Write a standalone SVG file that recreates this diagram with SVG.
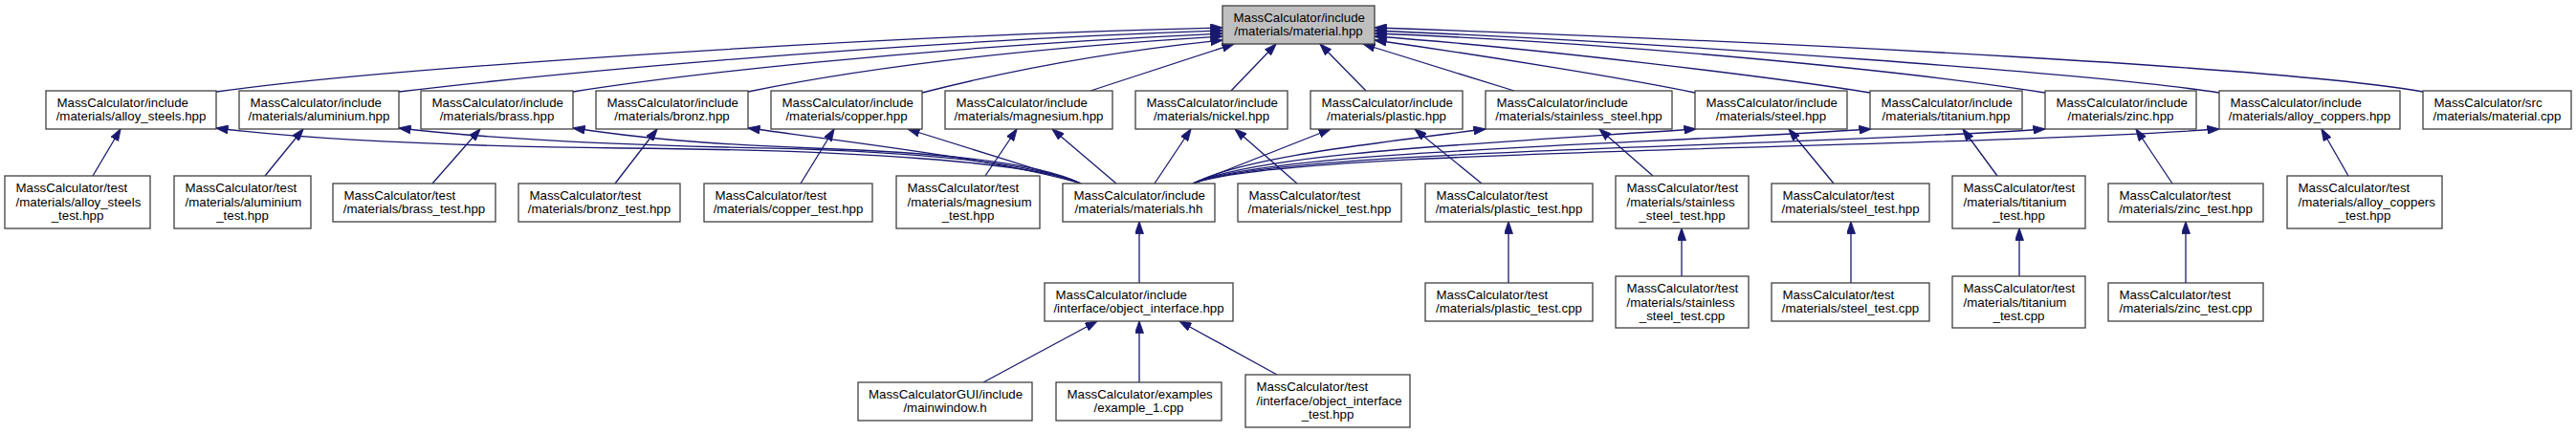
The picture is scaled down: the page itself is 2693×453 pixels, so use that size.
<svg xmlns="http://www.w3.org/2000/svg" width="2693" height="453" viewBox="0 0 2693 453">
<defs>
<marker id="a" markerUnits="userSpaceOnUse" viewBox="0 0 13 9" refX="12.5" refY="4.5" markerWidth="13" markerHeight="9" orient="auto">
<path d="M0,0 L13,4.5 L0,9 z" fill="#191970" stroke="#191970" stroke-width="0.8"/>
</marker>
<style>
.n rect{fill:#fff;stroke:#404040;stroke-width:1.3}
.m rect{fill:#bfbfbf}
text{font-family:"Liberation Sans",Arial,Helvetica,sans-serif;font-size:13.3px;fill:#000}
.c{text-anchor:middle}
#edges path{fill:none;stroke:#191970;stroke-width:1.3;marker-end:url(#a)}
</style>
</defs>
<rect width="2693" height="453" fill="#fff"/>
<g id="edges">
<path d="M226,96 C400,72 900,38 1278,29"/>
<path d="M417,96 C550,80 900,45 1278,32"/>
<path d="M599,96 C700,80 950,50 1278,35"/>
<path d="M782,96 C850,82 1000,55 1278,38"/>
<path d="M964,97 C1050,75 1150,55 1278,42"/>
<path d="M1140,95 L1290,46"/>
<path d="M1287,95 L1334,46"/>
<path d="M1428,95 L1380,46"/>
<path d="M1583,95 L1425,46"/>
<path d="M1772,97 C1700,82 1550,58 1437,42"/>
<path d="M1955,97 C1850,80 1600,50 1437,38"/>
<path d="M2138,97 C2000,75 1700,45 1437,35"/>
<path d="M2320,97 C2200,78 1750,45 1437,32"/>
<path d="M2533,96 C2400,72 1900,45 1437,29"/>
<path d="M97,184 L126,135"/>
<path d="M277,184 L317,135"/>
<path d="M452,192 L502,135"/>
<path d="M643,192 L687,135"/>
<path d="M837,192 L872,135"/>
<path d="M1030,184 L1063,135"/>
<path d="M1356,192 L1291,135"/>
<path d="M1549,192 L1479,135"/>
<path d="M1728,184 L1672,135"/>
<path d="M1917,192 L1870,135"/>
<path d="M2088,184 L2052,135"/>
<path d="M2271,192 L2233,135"/>
<path d="M2455,184 L2427,135"/>
<path d="M1577,296 L1577,232"/>
<path d="M1758,289 L1758,239"/>
<path d="M1935,296 L1935,232"/>
<path d="M2111,289 L2111,239"/>
<path d="M2285,296 L2285,232"/>
<path d="M1191,296 L1191,232"/>
<path d="M1028,400 L1147,336"/>
<path d="M1191,400 L1191,336"/>
<path d="M1335,392 L1233,336"/>
<path d="M1130,192 C1080,170 900,157 650,155 C480,153 330,147 226,134"/>
<path d="M1130,192 C1080,170 950,157 760,154 C600,150 500,144 417,134"/>
<path d="M1130,192 C1090,172 1000,160 850,155 C720,150 660,143 599,134"/>
<path d="M1130,192 C1050,168 900,150 782,134"/>
<path d="M1128,191 L949,135"/>
<path d="M1167,192 L1100,135"/>
<path d="M1207,192 L1245,135"/>
<path d="M1247,192 L1391,135"/>
<path d="M1247,192 C1300,165 1420,152 1553,135"/>
<path d="M1247,192 C1320,160 1550,150 1773,135"/>
<path d="M1247,192 C1330,158 1700,152 1956,135"/>
<path d="M1247,192 C1340,156 1850,155 2138,135"/>
<path d="M1247,192 C1350,155 2000,157 2320,135"/>
</g>
<g id="n_material" class="n m"><rect x="1278" y="6" width="159" height="40"/><text x="1289.5" y="22.7">MassCalculator/include</text><text class="c" x="1357.5" y="37.3">/materials/material.hpp</text></g>
<g id="n_alloy_steels" class="n"><rect x="48" y="95" width="178" height="40"/><text x="59.5" y="111.7">MassCalculator/include</text><text class="c" x="137" y="126.3">/materials/alloy_steels.hpp</text></g>
<g id="n_aluminium" class="n"><rect x="250" y="95" width="167" height="40"/><text x="261.5" y="111.7">MassCalculator/include</text><text class="c" x="333.5" y="126.3">/materials/aluminium.hpp</text></g>
<g id="n_brass" class="n"><rect x="440" y="95" width="159" height="40"/><text x="451.5" y="111.7">MassCalculator/include</text><text class="c" x="519.5" y="126.3">/materials/brass.hpp</text></g>
<g id="n_bronz" class="n"><rect x="623" y="95" width="159" height="40"/><text x="634.5" y="111.7">MassCalculator/include</text><text class="c" x="702.5" y="126.3">/materials/bronz.hpp</text></g>
<g id="n_copper" class="n"><rect x="806" y="95" width="158" height="40"/><text x="817.5" y="111.7">MassCalculator/include</text><text class="c" x="885" y="126.3">/materials/copper.hpp</text></g>
<g id="n_magnesium" class="n"><rect x="988" y="95" width="175" height="40"/><text x="999.5" y="111.7">MassCalculator/include</text><text class="c" x="1075.5" y="126.3">/materials/magnesium.hpp</text></g>
<g id="n_nickel" class="n"><rect x="1187" y="95" width="159" height="40"/><text x="1198.5" y="111.7">MassCalculator/include</text><text class="c" x="1266.5" y="126.3">/materials/nickel.hpp</text></g>
<g id="n_plastic" class="n"><rect x="1370" y="95" width="159" height="40"/><text x="1381.5" y="111.7">MassCalculator/include</text><text class="c" x="1449.5" y="126.3">/materials/plastic.hpp</text></g>
<g id="n_stainless_steel" class="n"><rect x="1553" y="95" width="195" height="40"/><text x="1564.5" y="111.7">MassCalculator/include</text><text class="c" x="1650.5" y="126.3">/materials/stainless_steel.hpp</text></g>
<g id="n_steel" class="n"><rect x="1772" y="95" width="159" height="40"/><text x="1783.5" y="111.7">MassCalculator/include</text><text class="c" x="1851.5" y="126.3">/materials/steel.hpp</text></g>
<g id="n_titanium" class="n"><rect x="1955" y="95" width="159" height="40"/><text x="1966.5" y="111.7">MassCalculator/include</text><text class="c" x="2034.5" y="126.3">/materials/titanium.hpp</text></g>
<g id="n_zinc" class="n"><rect x="2138" y="95" width="158" height="40"/><text x="2149.5" y="111.7">MassCalculator/include</text><text class="c" x="2217" y="126.3">/materials/zinc.hpp</text></g>
<g id="n_alloy_coppers" class="n"><rect x="2320" y="95" width="189" height="40"/><text x="2331.5" y="111.7">MassCalculator/include</text><text class="c" x="2414.5" y="126.3">/materials/alloy_coppers.hpp</text></g>
<g id="n_material_cpp" class="n"><rect x="2533" y="95" width="155" height="40"/><text x="2544.5" y="111.7">MassCalculator/src</text><text class="c" x="2610.5" y="126.3">/materials/material.cpp</text></g>
<g id="n_alloy_steels_test" class="n"><rect x="5" y="184" width="152" height="55"/><text x="16.5" y="201">MassCalculator/test</text><text x="16.5" y="215.5">/materials/alloy_steels</text><text class="c" x="81" y="230">_test.hpp</text></g>
<g id="n_aluminium_test" class="n"><rect x="182" y="184" width="143" height="55"/><text x="193.5" y="201">MassCalculator/test</text><text x="193.5" y="215.5">/materials/aluminium</text><text class="c" x="253.5" y="230">_test.hpp</text></g>
<g id="n_brass_test" class="n"><rect x="348" y="192" width="170" height="40"/><text x="359.5" y="208.7">MassCalculator/test</text><text class="c" x="433" y="223.3">/materials/brass_test.hpp</text></g>
<g id="n_bronz_test" class="n"><rect x="542" y="192" width="169" height="40"/><text x="553.5" y="208.7">MassCalculator/test</text><text class="c" x="626.5" y="223.3">/materials/bronz_test.hpp</text></g>
<g id="n_copper_test" class="n"><rect x="736" y="192" width="176" height="40"/><text x="747.5" y="208.7">MassCalculator/test</text><text class="c" x="824" y="223.3">/materials/copper_test.hpp</text></g>
<g id="n_magnesium_test" class="n"><rect x="937" y="184" width="150" height="55"/><text x="948.5" y="201">MassCalculator/test</text><text x="948.5" y="215.5">/materials/magnesium</text><text class="c" x="1012" y="230">_test.hpp</text></g>
<g id="n_materials_hh" class="n"><rect x="1111" y="192" width="159" height="40"/><text x="1122.5" y="208.7">MassCalculator/include</text><text class="c" x="1190.5" y="223.3">/materials/materials.hh</text></g>
<g id="n_nickel_test" class="n"><rect x="1294" y="192" width="171" height="40"/><text x="1305.5" y="208.7">MassCalculator/test</text><text class="c" x="1379.5" y="223.3">/materials/nickel_test.hpp</text></g>
<g id="n_plastic_test_hpp" class="n"><rect x="1490" y="192" width="175" height="40"/><text x="1501.5" y="208.7">MassCalculator/test</text><text class="c" x="1577.5" y="223.3">/materials/plastic_test.hpp</text></g>
<g id="n_stainless_test_hpp" class="n"><rect x="1689" y="184" width="139" height="55"/><text x="1700.5" y="201">MassCalculator/test</text><text x="1700.5" y="215.5">/materials/stainless</text><text class="c" x="1758.5" y="230">_steel_test.hpp</text></g>
<g id="n_steel_test_hpp" class="n"><rect x="1852" y="192" width="165" height="40"/><text x="1863.5" y="208.7">MassCalculator/test</text><text class="c" x="1934.5" y="223.3">/materials/steel_test.hpp</text></g>
<g id="n_titanium_test_hpp" class="n"><rect x="2041" y="184" width="139" height="55"/><text x="2052.5" y="201">MassCalculator/test</text><text x="2052.5" y="215.5">/materials/titanium</text><text class="c" x="2110.5" y="230">_test.hpp</text></g>
<g id="n_zinc_test_hpp" class="n"><rect x="2204" y="192" width="162" height="40"/><text x="2215.5" y="208.7">MassCalculator/test</text><text class="c" x="2285" y="223.3">/materials/zinc_test.hpp</text></g>
<g id="n_alloy_coppers_test" class="n"><rect x="2391" y="184" width="162" height="55"/><text x="2402.5" y="201">MassCalculator/test</text><text x="2402.5" y="215.5">/materials/alloy_coppers</text><text class="c" x="2472" y="230">_test.hpp</text></g>
<g id="n_object_interface" class="n"><rect x="1092" y="296" width="197" height="40"/><text x="1103.5" y="312.7">MassCalculator/include</text><text class="c" x="1190.5" y="327.3">/interface/object_interface.hpp</text></g>
<g id="n_plastic_test_cpp" class="n"><rect x="1490" y="296" width="175" height="40"/><text x="1501.5" y="312.7">MassCalculator/test</text><text class="c" x="1577.5" y="327.3">/materials/plastic_test.cpp</text></g>
<g id="n_stainless_test_cpp" class="n"><rect x="1689" y="289" width="139" height="54"/><text x="1700.5" y="306">MassCalculator/test</text><text x="1700.5" y="320.5">/materials/stainless</text><text class="c" x="1758.5" y="335">_steel_test.cpp</text></g>
<g id="n_steel_test_cpp" class="n"><rect x="1852" y="296" width="165" height="40"/><text x="1863.5" y="312.7">MassCalculator/test</text><text class="c" x="1934.5" y="327.3">/materials/steel_test.cpp</text></g>
<g id="n_titanium_test_cpp" class="n"><rect x="2041" y="289" width="139" height="54"/><text x="2052.5" y="306">MassCalculator/test</text><text x="2052.5" y="320.5">/materials/titanium</text><text class="c" x="2110.5" y="335">_test.cpp</text></g>
<g id="n_zinc_test_cpp" class="n"><rect x="2204" y="296" width="162" height="40"/><text x="2215.5" y="312.7">MassCalculator/test</text><text class="c" x="2285" y="327.3">/materials/zinc_test.cpp</text></g>
<g id="n_mainwindow" class="n"><rect x="897" y="400" width="182" height="40"/><text x="908" y="416.7">MassCalculatorGUI/include</text><text class="c" x="988" y="431.3">/mainwindow.h</text></g>
<g id="n_example_1" class="n"><rect x="1104" y="400" width="173" height="40"/><text x="1115.5" y="416.7">MassCalculator/examples</text><text class="c" x="1190.5" y="431.3">/example_1.cpp</text></g>
<g id="n_object_interface_test" class="n"><rect x="1302" y="392" width="172" height="55"/><text x="1313.5" y="409">MassCalculator/test</text><text x="1313.5" y="423.5">/interface/object_interface</text><text class="c" x="1388" y="438">_test.hpp</text></g>
</svg>
